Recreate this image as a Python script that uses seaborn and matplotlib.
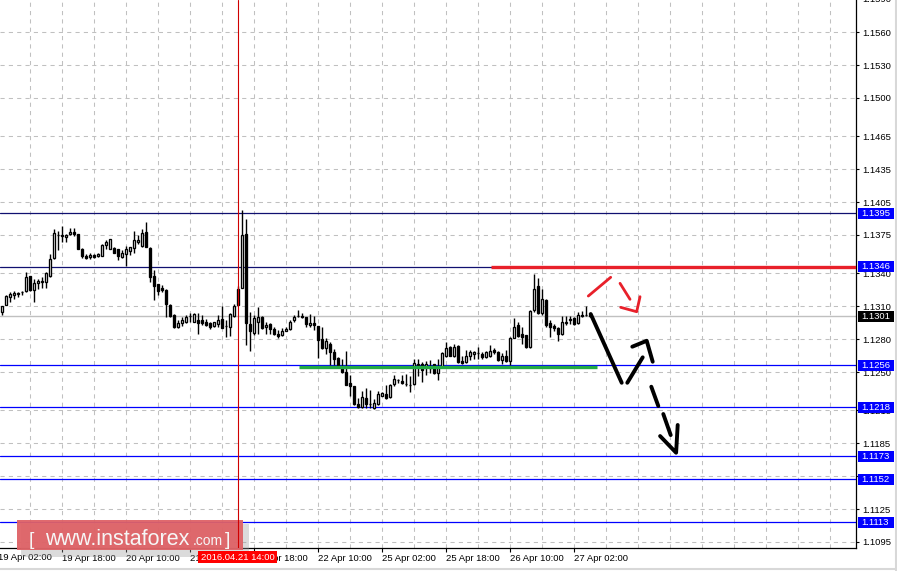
import numpy as np
import pandas as pd
import matplotlib
matplotlib.use("Agg")
import matplotlib.pyplot as plt
import matplotlib.transforms as mtransforms
from matplotlib.patches import Rectangle
from matplotlib.lines import Line2D
import seaborn as sns

sns.set_theme(style="white")
plt.rcParams['font.family'] = ['Liberation Sans', 'DejaVu Sans']

# ---------------- data (H1 candles) ----------------
opens = [1.1305, 1.1311, 1.1318, 1.1320, 1.1321, 1.1323, 1.1324, 1.1338, 1.1325, 1.1331,
         1.1332, 1.1332, 1.1338, 1.1354, 1.1375, 1.1374, 1.1373, 1.1376, 1.1378, 1.1376,
         1.1362, 1.1356, 1.1355, 1.1357, 1.1356, 1.1356, 1.1366, 1.1362, 1.1363, 1.1362,
         1.1355, 1.1358, 1.1360, 1.1363, 1.1369, 1.1365, 1.1378, 1.1363, 1.1338, 1.1330,
         1.1327, 1.1325, 1.1311, 1.1302, 1.1291, 1.1295, 1.1296, 1.1301, 1.1296, 1.1297,
         1.1297, 1.1296, 1.1295, 1.1292, 1.1294, 1.1298, 1.1292, 1.1291, 1.1301, 1.1311,
         1.1327, 1.1376, 1.1294, 1.1286, 1.1296, 1.1300, 1.1291, 1.1294, 1.1289, 1.1285,
         1.1284, 1.1287, 1.1289, 1.1297, 1.1301, 1.1301, 1.1300, 1.1293, 1.1295, 1.1292,
         1.1280, 1.1272, 1.1276, 1.1268, 1.1263, 1.1255, 1.1250, 1.1240, 1.1237, 1.1221,
         1.1218, 1.1226, 1.1221, 1.1217, 1.1221, 1.1228, 1.1230, 1.1227, 1.1239, 1.1243,
         1.1242, 1.1239, 1.1238, 1.1239, 1.1256, 1.1257, 1.1255, 1.1254, 1.1257, 1.1249,
         1.1255, 1.1265, 1.1273, 1.1265, 1.1274, 1.1260, 1.1259, 1.1265, 1.1266, 1.1267,
         1.1266, 1.1264, 1.1265, 1.1270, 1.1268, 1.1261, 1.1265, 1.1260, 1.1281, 1.1293,
         1.1285, 1.1284, 1.1273, 1.1307, 1.1328, 1.1304, 1.1316, 1.1295, 1.1292, 1.1290,
         1.1285, 1.1295, 1.1297, 1.1299, 1.1295, 1.1302, 1.1302, 1.1302]
highs = [1.1310, 1.1320, 1.1323, 1.1324, 1.1323, 1.1324, 1.1341, 1.1338, 1.1335, 1.1335,
         1.1337, 1.1341, 1.1358, 1.1380, 1.1379, 1.1383, 1.1376, 1.1381, 1.1381, 1.1376,
         1.1363, 1.1358, 1.1359, 1.1358, 1.1359, 1.1367, 1.1370, 1.1371, 1.1364, 1.1362,
         1.1361, 1.1365, 1.1364, 1.1379, 1.1375, 1.1380, 1.1387, 1.1364, 1.1343, 1.1330,
         1.1329, 1.1326, 1.1312, 1.1303, 1.1297, 1.1300, 1.1302, 1.1304, 1.1304, 1.1304,
         1.1302, 1.1298, 1.1296, 1.1296, 1.1302, 1.1310, 1.1297, 1.1304, 1.1312, 1.1328,
         1.1398, 1.1390, 1.1305, 1.1302, 1.1309, 1.1301, 1.1296, 1.1295, 1.1291, 1.1288,
         1.1290, 1.1291, 1.1297, 1.1302, 1.1307, 1.1304, 1.1300, 1.1303, 1.1301, 1.1292,
         1.1291, 1.1281, 1.1277, 1.1271, 1.1264, 1.1262, 1.1269, 1.1247, 1.1237, 1.1226,
         1.1233, 1.1235, 1.1234, 1.1225, 1.1233, 1.1232, 1.1238, 1.1239, 1.1247, 1.1244,
         1.1247, 1.1248, 1.1246, 1.1262, 1.1262, 1.1259, 1.1260, 1.1261, 1.1257, 1.1262,
         1.1268, 1.1277, 1.1274, 1.1276, 1.1275, 1.1265, 1.1270, 1.1270, 1.1269, 1.1273,
         1.1268, 1.1269, 1.1275, 1.1272, 1.1269, 1.1267, 1.1270, 1.1282, 1.1299, 1.1296,
         1.1291, 1.1284, 1.1307, 1.1339, 1.1336, 1.1326, 1.1317, 1.1297, 1.1294, 1.1291,
         1.1301, 1.1301, 1.1301, 1.1300, 1.1305, 1.1306, 1.1310, 1.1303]
lows = [1.1302, 1.1311, 1.1314, 1.1317, 1.1318, 1.1320, 1.1323, 1.1324, 1.1314, 1.1326,
        1.1327, 1.1327, 1.1337, 1.1353, 1.1361, 1.1369, 1.1369, 1.1375, 1.1374, 1.1362,
        1.1354, 1.1353, 1.1353, 1.1354, 1.1355, 1.1356, 1.1362, 1.1362, 1.1359, 1.1352,
        1.1354, 1.1347, 1.1357, 1.1359, 1.1367, 1.1364, 1.1364, 1.1332, 1.1316, 1.1320,
        1.1323, 1.1300, 1.1300, 1.1290, 1.1290, 1.1292, 1.1295, 1.1296, 1.1296, 1.1285,
        1.1293, 1.1292, 1.1289, 1.1291, 1.1291, 1.1290, 1.1282, 1.1283, 1.1300, 1.1311,
        1.1327, 1.1275, 1.1269, 1.1284, 1.1285, 1.1289, 1.1285, 1.1285, 1.1284, 1.1281,
        1.1283, 1.1287, 1.1288, 1.1296, 1.1300, 1.1299, 1.1291, 1.1291, 1.1288, 1.1263,
        1.1271, 1.1266, 1.1256, 1.1256, 1.1256, 1.1249, 1.1238, 1.1228, 1.1220, 1.1217,
        1.1217, 1.1217, 1.1217, 1.1216, 1.1220, 1.1228, 1.1225, 1.1226, 1.1237, 1.1240,
        1.1239, 1.1237, 1.1232, 1.1238, 1.1246, 1.1241, 1.1247, 1.1249, 1.1248, 1.1243,
        1.1254, 1.1264, 1.1265, 1.1264, 1.1258, 1.1257, 1.1258, 1.1261, 1.1262, 1.1262,
        1.1262, 1.1263, 1.1264, 1.1266, 1.1260, 1.1257, 1.1259, 1.1256, 1.1281, 1.1282,
        1.1276, 1.1272, 1.1272, 1.1305, 1.1303, 1.1302, 1.1291, 1.1282, 1.1287, 1.1278,
        1.1284, 1.1293, 1.1294, 1.1293, 1.1294, 1.1300, 1.1301, 1.1300]
closes = [1.1310, 1.1319, 1.1321, 1.1322, 1.1322, 1.1323, 1.1337, 1.1325, 1.1331, 1.1333,
          1.1333, 1.1340, 1.1353, 1.1377, 1.1375, 1.1375, 1.1375, 1.1378, 1.1376, 1.1362,
          1.1356, 1.1354, 1.1357, 1.1355, 1.1358, 1.1366, 1.1369, 1.1371, 1.1359, 1.1356,
          1.1359, 1.1362, 1.1364, 1.1370, 1.1370, 1.1377, 1.1364, 1.1337, 1.1328, 1.1324,
          1.1325, 1.1312, 1.1301, 1.1291, 1.1295, 1.1297, 1.1300, 1.1301, 1.1303, 1.1295,
          1.1295, 1.1293, 1.1291, 1.1296, 1.1297, 1.1290, 1.1292, 1.1303, 1.1310, 1.1326,
          1.1375, 1.1295, 1.1287, 1.1299, 1.1300, 1.1290, 1.1293, 1.1289, 1.1285, 1.1283,
          1.1287, 1.1289, 1.1296, 1.1300, 1.1301, 1.1300, 1.1294, 1.1295, 1.1293, 1.1279,
          1.1272, 1.1278, 1.1268, 1.1262, 1.1256, 1.1250, 1.1238, 1.1237, 1.1221, 1.1218,
          1.1227, 1.1221, 1.1221, 1.1222, 1.1230, 1.1231, 1.1226, 1.1238, 1.1244, 1.1243,
          1.1240, 1.1239, 1.1238, 1.1258, 1.1257, 1.1252, 1.1257, 1.1255, 1.1249, 1.1255,
          1.1267, 1.1272, 1.1265, 1.1273, 1.1259, 1.1258, 1.1265, 1.1268, 1.1268, 1.1267,
          1.1264, 1.1268, 1.1269, 1.1268, 1.1261, 1.1265, 1.1260, 1.1281, 1.1291, 1.1283,
          1.1282, 1.1273, 1.1306, 1.1326, 1.1304, 1.1317, 1.1293, 1.1291, 1.1290, 1.1285,
          1.1296, 1.1296, 1.1298, 1.1294, 1.1302, 1.1301, 1.1302, 1.1301]

# time-axis labels (bar index -> label)
time_tick_idx = [16, 32, 48, 64, 80, 96, 112, 128, 144]
time_tick_labels = ["19 Apr 18:00", "20 Apr 10:00", "21 Apr 02:00", "21 Apr 18:00",
                    "22 Apr 10:00", "25 Apr 02:00", "25 Apr 18:00", "26 Apr 10:00",
                    "27 Apr 02:00"]
first_label = "19 Apr 02:00"

price_ticks = [1.1560, 1.1530, 1.1500, 1.1465, 1.1435, 1.1405, 1.1375, 1.1340, 1.1310,
               1.1280, 1.1250, 1.1215, 1.1185, 1.1155, 1.1125, 1.1095]

# horizontal levels
level_values = [1.1395, 1.1346, 1.1256, 1.1218, 1.1173, 1.1152, 1.1113]
level_colors = ["#101070", "#101070", "#0000FF", "#0000FF", "#0000FF", "#0000FF", "#0000FF"]
current_price = 1.1301

resistance = 1.1346
resistance_span = [123.3, 215.0]
support = 1.1255
support_span = [75.3, 149.8]

crosshair_idx = 60
crosshair_label = "2016.04.21 14:00"

# hand-drawn forecast strokes (bar index, price)
red_strokes = [
    ([147.65, 153.25], [1.13193, 1.13364]),
    ([155.58, 158.08], [1.13309, 1.13163]),
    ([155.75, 159.75, 160.58], [1.13090, 1.13050, 1.13187]),
]
black_strokes = [
    ([148.25, 156.0], [1.13029, 1.12402]),
    ([157.4, 161.25], [1.12402, 1.12634]),
    ([158.65, 162.25, 163.75], [1.12731, 1.12785, 1.12594]),
    ([163.4, 165.15], [1.12366, 1.12190]),
    ([166.4, 168.25], [1.12117, 1.11925]),
    ([165.6, 169.6, 170.0], [1.11916, 1.11764, 1.12017]),
]

# ---------------- figure ----------------
W, H = 897, 571
fig = plt.figure(figsize=(W / 100, H / 100), dpi=100)
fig.patch.set_facecolor("white")
ax = fig.add_axes([0, 23 / H, 856 / W, 548 / H])
ax.set_facecolor("white")

df = pd.DataFrame({"open": opens, "high": highs, "low": lows, "close": closes})
df["idx"] = np.arange(1, len(df) + 1)
up = df["close"] >= df["open"]

xlim = (0.575, 214.575)
ylim = (1.10895, 1.15893)

# grid
grid_kw = dict(color="#C0C0C0", lw=0.75, ls=(0, (4, 4)), zorder=0.5)
for gx in np.arange(8, 215, 8):
    ax.axvline(gx, **grid_kw)
for gy in price_ticks:
    ax.axhline(gy, **grid_kw)

# levels
for v, c in zip(level_values, level_colors):
    ax.axhline(v, color=c, lw=0.9, zorder=1)
ax.axhline(current_price, color="#C0C0C0", lw=1.0, zorder=1)

# candles
ax.vlines(df["idx"], df["low"], df["high"], color="black", lw=1.0, zorder=3)
ax.bar(df["idx"], (df["close"] - df["open"]).abs(),
       bottom=np.minimum(df["open"], df["close"]), width=0.6,
       color=np.where(up, "white", "black"), edgecolor="black", linewidth=0.95, zorder=4)

# thick support / resistance
ax.plot(resistance_span, [resistance] * 2, color="#E8202A", lw=2.4, zorder=5, solid_capstyle="butt")
ax.plot(support_span, [support] * 2, color="#22AA44", lw=2.4, zorder=5, solid_capstyle="butt")

# forecast strokes
for xs, ys in red_strokes:
    sns.lineplot(x=xs, y=ys, ax=ax, color="#E8202A", lw=2.0, sort=False,
                 estimator=None, zorder=6, solid_capstyle="round")
for xs, ys in black_strokes:
    sns.lineplot(x=xs, y=ys, ax=ax, color="black", lw=2.8, sort=False,
                 estimator=None, zorder=6, solid_capstyle="round")

# crosshair
ax.axvline(crosshair_idx, color="#D00000", lw=0.8, zorder=8)

ax.set_xlim(*xlim)
ax.set_ylim(*ylim)

# axes styling
for s in ["left", "top"]:
    ax.spines[s].set_visible(False)
for s in ["right", "bottom"]:
    ax.spines[s].set_visible(True)
    ax.spines[s].set_color("black")
    ax.spines[s].set_linewidth(0.9)

ax.yaxis.tick_right()
ax.set_yticks(price_ticks)
ax.set_yticklabels([f"{v:.4f}" for v in price_ticks])
ax.tick_params(axis="y", direction="out", length=2.5, width=0.8, pad=2.2,
               labelsize=6.8, colors="black", right=True, left=False)
ax.set_xticks(time_tick_idx)
ax.set_xticklabels(time_tick_labels)
for lab in ax.get_xticklabels():
    lab.set_ha("left")
ax.tick_params(axis="x", direction="out", length=3, width=0.8, pad=1.5,
               labelsize=6.8, colors="black", bottom=True)
ax.set_xlabel("")
ax.set_ylabel("")

blend_xa = mtransforms.blended_transform_factory(ax.transData, ax.transAxes)
blend_ay = mtransforms.blended_transform_factory(ax.transAxes, ax.transData)

# clipped first label and top price label
ax.text(0, -0.0085, first_label, transform=blend_xa, ha="left", va="top",
        fontsize=6.8, color="black", clip_on=False)
ax.text(862 / 856, 1.1590, "1.1590", transform=blend_ay, ha="left", va="center",
        fontsize=6.8, color="black", clip_on=False)

# price boxes on the right
box_h = 0.00100
for v, c in list(zip(level_values, ["#0000FF"] * len(level_values))) + [(current_price, "black")]:
    ax.add_patch(Rectangle((857.7 / 856, v - box_h / 2), 36.3 / 856, box_h,
                           transform=blend_ay, facecolor=c, edgecolor="none",
                           clip_on=False, zorder=9))
    ax.text(861.5 / 856, v, f"{v:.4f}", transform=blend_ay, ha="left", va="center",
            fontsize=6.8, color="white", clip_on=False, zorder=10)

# crosshair time box
ax.add_patch(Rectangle((crosshair_idx - 9.9, -0.0275), 19.8, 0.022, transform=blend_xa,
                       facecolor="#FF0000", edgecolor="none", clip_on=False, zorder=9))
ax.text(crosshair_idx, -0.0165, crosshair_label, transform=blend_xa, ha="center",
        va="center", fontsize=6.8, color="white", clip_on=False, zorder=10)

# watermark
ft = fig.transFigure
ax.add_patch(Rectangle((21 / W, (H - 557) / H), 228 / W, 33 / H, transform=ft,
                       facecolor="#9A9A9A", alpha=0.35, edgecolor="none",
                       clip_on=False, zorder=7))
ax.add_patch(Rectangle((17 / W, (H - 550) / H), 226 / W, 30 / H, transform=ft,
                       facecolor="#DF6266", edgecolor="none", alpha=0.95,
                       clip_on=False, zorder=7.2))
base = (H - 545) / H
ax.text(29 / W, base, "[", transform=ft, fontsize=14, color="#F6F6F6",
        va="baseline", ha="left", clip_on=False, zorder=7.5)
ax.text(45 / W, base, "www.instaforex", transform=ft, fontsize=15.5, color="#F6F6F6",
        va="baseline", ha="left", clip_on=False, zorder=7.5)
ax.text(193 / W, base, ".com", transform=ft, fontsize=10, color="#F6F6F6",
        va="baseline", ha="left", clip_on=False, zorder=7.5)
ax.text(225 / W, base, "]", transform=ft, fontsize=14, color="#F6F6F6",
        va="baseline", ha="left", clip_on=False, zorder=7.5)

# outer frame hint
fig.add_artist(Line2D([0, 1], [2.5 / H, 2.5 / H], transform=ft, color="#D8D8D8", lw=1.5))
fig.add_artist(Line2D([895.5 / W, 895.5 / W], [0, 1], transform=ft, color="#D8D8D8", lw=1.5))

fig.savefig("out.png", dpi=100)
